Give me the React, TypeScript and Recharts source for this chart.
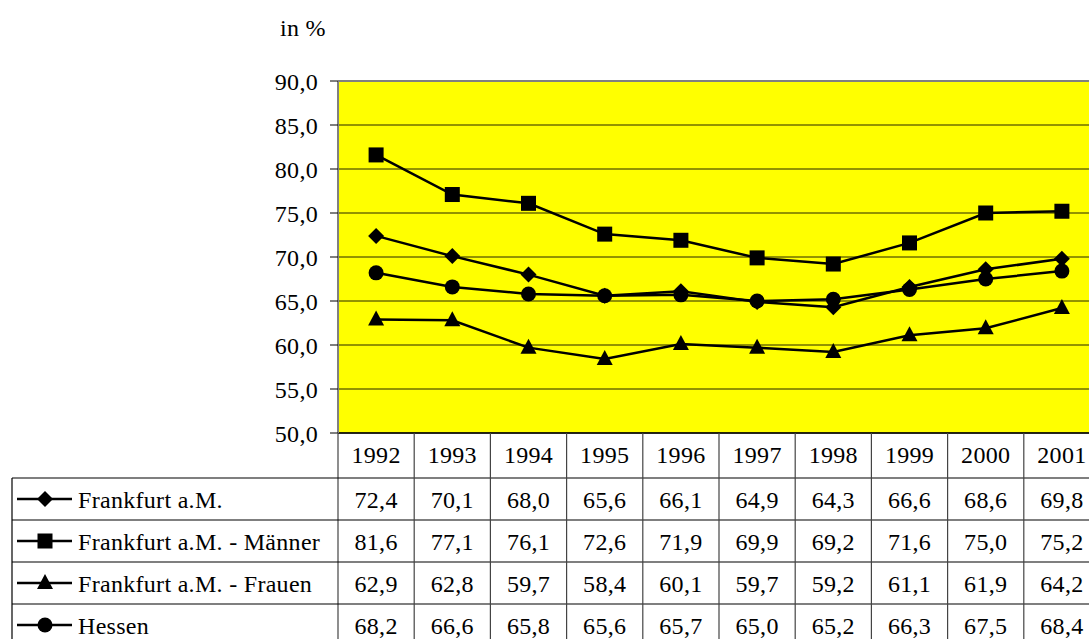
import { CartesianGrid, Line, LineChart, ReferenceLine, XAxis, YAxis } from "recharts";

const YEARS = ["1992", "1993", "1994", "1995", "1996", "1997", "1998", "1999", "2000", "2001"];
const FRANKFURT = [72.4, 70.1, 68.0, 65.6, 66.1, 64.9, 64.3, 66.6, 68.6, 69.8];
const MAENNER = [81.6, 77.1, 76.1, 72.6, 71.9, 69.9, 69.2, 71.6, 75.0, 75.2];
const FRAUEN = [62.9, 62.8, 59.7, 58.4, 60.1, 59.7, 59.2, 61.1, 61.9, 64.2];
const HESSEN = [68.2, 66.6, 65.8, 65.6, 65.7, 65.0, 65.2, 66.3, 67.5, 68.4];
const Y_TICKS = [50, 55, 60, 65, 70, 75, 80, 85, 90];

type Shape = "diamond" | "square" | "triangle" | "circle";

const SERIES: { key: string; name: string; values: number[]; shape: Shape }[] = [
  { key: "frankfurt", name: "Frankfurt a.M.", values: FRANKFURT, shape: "diamond" },
  { key: "maenner", name: "Frankfurt a.M. - Männer", values: MAENNER, shape: "square" },
  { key: "frauen", name: "Frankfurt a.M. - Frauen", values: FRAUEN, shape: "triangle" },
  { key: "hessen", name: "Hessen", values: HESSEN, shape: "circle" },
];

const data = YEARS.map((year, i) => {
  const row: Record<string, string | number> = { year };
  SERIES.forEach((s) => (row[s.key] = s.values[i]));
  return row;
});

const FONT = '"Liberation Serif", "Times New Roman", serif';
const textStyle = { fontFamily: FONT, fontSize: 24, letterSpacing: 0.3, fill: "#000" };
const COL_W = 76.2;
const HEADER_H = 45;
const ROW_H = 42;
const fmt = (v: number) => v.toFixed(1).replace(".", ",");

function Marker({ shape, cx, cy }: { shape: Shape; cx: number; cy: number }) {
  if (shape === "diamond")
    return <polygon points={`${cx},${cy - 8} ${cx + 8},${cy} ${cx},${cy + 8} ${cx - 8},${cy}`} fill="#000" />;
  if (shape === "square") return <rect x={cx - 7.5} y={cy - 7.5} width={15} height={15} fill="#000" />;
  if (shape === "triangle")
    return <polygon points={`${cx},${cy - 9} ${cx + 8},${cy + 6} ${cx - 8},${cy + 6}`} fill="#000" />;
  return <circle cx={cx} cy={cy} r={7.5} fill="#000" />;
}

function TableColumn(props: any) {
  const { x, y, payload } = props;
  const i = payload.index;
  const left = x - COL_W / 2;
  const bottom = y + 220;
  return (
    <g>
      <line x1={left} y1={y} x2={left} y2={bottom} stroke="#444" strokeWidth={1.2} />
      <text x={x} y={y + 30} textAnchor="middle" style={textStyle}>
        {payload.value}
      </text>
      {SERIES.map((s, r) => (
        <text key={s.key} x={x} y={y + HEADER_H + r * ROW_H + 30} textAnchor="middle" style={textStyle}>
          {fmt(s.values[i])}
        </text>
      ))}
      {i === 0 && (
        <g>
          <line x1={12} y1={y + HEADER_H} x2={12} y2={bottom} stroke="#000" strokeWidth={1.2} />
          {SERIES.map((s, r) => {
            const top = y + HEADER_H + r * ROW_H;
            const mid = top + 21;
            return (
              <g key={s.key}>
                <line x1={12} y1={top} x2={1100} y2={top} stroke="#000" strokeWidth={1.2} />
                <line x1={17} y1={mid} x2={72} y2={mid} stroke="#000" strokeWidth={2.5} />
                <Marker shape={s.shape} cx={45} cy={mid} />
                <text x={78} y={top + 30} style={textStyle}>
                  {s.name}
                </text>
              </g>
            );
          })}
        </g>
      )}
    </g>
  );
}

export default function App() {
  return (
    <div
      style={{
        position: "fixed",
        left: 0,
        top: 0,
        width: 1089,
        height: 639,
        overflow: "hidden",
        background: "#fff",
      }}
    >
      <div style={{ position: "absolute", left: 280, top: 15, fontFamily: FONT, fontSize: 24, letterSpacing: 0.3 }}>
        in %
      </div>
      <LineChart width={1100} height={660} data={data} margin={{ top: 81, right: 0, left: 0, bottom: 0 }}>
        <CartesianGrid vertical={false} stroke="#000" strokeOpacity={0.85} fill="#ffff00" fillOpacity={1} />
        <XAxis
          dataKey="year"
          scale="band"
          height={227}
          axisLine={{ stroke: "#000", strokeWidth: 1.5 }}
          tickLine={false}
          tickSize={0}
          tickMargin={0}
          interval={0}
          tick={<TableColumn />}
        />
        <YAxis
          width={338}
          domain={[50, 90]}
          ticks={Y_TICKS}
          tickFormatter={fmt}
          tickSize={8}
          tickMargin={12}
          axisLine={{ stroke: "#808080", strokeWidth: 2 }}
          tickLine={{ stroke: "#000" }}
          tick={textStyle}
          allowDataOverflow
        />
        <ReferenceLine y={90} stroke="#808080" strokeWidth={2} />
        {SERIES.map((s) => (
          <Line
            key={s.key}
            dataKey={s.key}
            name={s.name}
            stroke="#000"
            strokeWidth={2.5}
            isAnimationActive={false}
            dot={(p: any) => <Marker key={`${s.key}-${p.index}`} shape={s.shape} cx={p.cx} cy={p.cy} />}
          />
        ))}
      </LineChart>
    </div>
  );
}
